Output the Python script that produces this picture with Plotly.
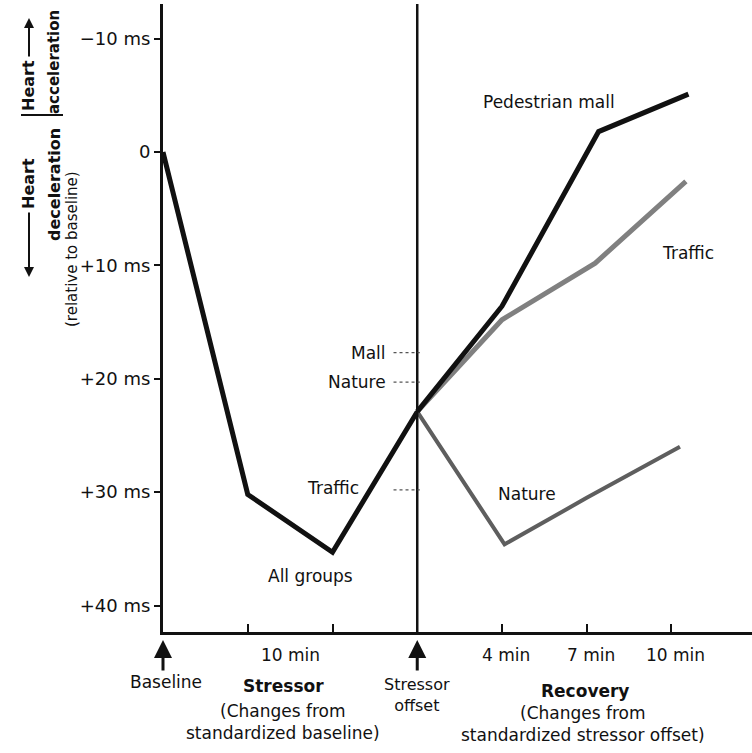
import plotly.graph_objects as go

# ---- data (x: 0 = baseline, 3 = stressor offset; y: ms change, + = deceleration)
stress_x = [0, 1, 2, 3]
stress_y = [0, 30.2, 35.3, 22.9]

mall_x = [3, 4, 5.14, 6.2]
mall_y = [22.9, 13.6, -1.8, -5.1]

traffic_x = [3, 4, 5.1, 6.17]
traffic_y = [22.9, 14.8, 9.8, 2.6]

nature_x = [3, 4.03, 5.0, 6.1]
nature_y = [22.9, 34.6, 30.5, 26.0]

offset_labels = ["Mall", "Nature", "Traffic"]
offset_values = [17.7, 20.3, 29.8]

ytick_vals = [-10, 0, 10, 20, 30, 40]
ytick_text = ["\u221210 ms", "0", "+10 ms", "+20 ms", "+30 ms", "+40 ms"]

xtick_vals = [1, 2, 4, 5, 6]
xlabel_pos = [1.5, 4.05, 5.05, 6.05]
xlabel_text = ["10 min", "4 min", "7 min", "10 min"]

FONT = "DejaVu Sans"
BLACK = "#111111"
FS = 17

fig = go.Figure()

fig.add_trace(go.Scatter(x=stress_x, y=stress_y, mode="lines",
                         line=dict(color=BLACK, width=5), hoverinfo="skip"))
fig.add_trace(go.Scatter(x=nature_x, y=nature_y, mode="lines",
                         line=dict(color="#5e5e5e", width=4), hoverinfo="skip"))
fig.add_trace(go.Scatter(x=traffic_x, y=traffic_y, mode="lines",
                         line=dict(color="#808080", width=5), hoverinfo="skip"))
fig.add_trace(go.Scatter(x=mall_x, y=mall_y, mode="lines",
                         line=dict(color=BLACK, width=5), hoverinfo="skip"))

# stressor offset vertical line
fig.add_shape(type="line", xref="x", yref="paper", x0=3, x1=3, y0=0, y1=1,
              line=dict(color=BLACK, width=2.5))

# offset leaders
for lab, v in zip(offset_labels, offset_values):
    fig.add_shape(type="line", xref="x", yref="y", x0=2.72, x1=3.03, y0=v, y1=v,
                  line=dict(color="#555", width=1.2, dash="dot"))
    if lab != "Traffic":
        fig.add_annotation(x=2.66, y=v, xref="x", yref="y", text=lab,
                           showarrow=False, xanchor="right", yanchor="middle",
                           font=dict(family=FONT, size=FS, color=BLACK))
fig.add_annotation(x=2.0, y=29.6, xref="x", yref="y", text="Traffic",
                   showarrow=False, xanchor="center", yanchor="middle",
                   font=dict(family=FONT, size=FS, color=BLACK))

# curve labels
fig.add_annotation(x=4.55, y=-4.4, text="Pedestrian mall", showarrow=False,
                   font=dict(family=FONT, size=FS, color=BLACK))
fig.add_annotation(x=5.87, y=8.9, text="Traffic", showarrow=False, xanchor="left",
                   font=dict(family=FONT, size=FS, color=BLACK))
fig.add_annotation(x=4.3, y=30.2, text="Nature", showarrow=False,
                   font=dict(family=FONT, size=FS, color=BLACK))
fig.add_annotation(x=1.74, y=37.4, text="All groups", showarrow=False,
                   font=dict(family=FONT, size=FS, color=BLACK))

# x labels
for xp, t in zip(xlabel_pos, xlabel_text):
    fig.add_annotation(x=xp, y=0, xref="x", yref="paper", yshift=-23, text=t,
                       showarrow=False, yanchor="middle",
                       font=dict(family=FONT, size=FS, color=BLACK))


def py(pix):
    return 1 - (pix - 4) / 628.0


def px(pix):
    return (pix - 163) / 589.0


bottom = [
    (166, 682, "Baseline", FS),
    (283, 686, "<b>Stressor</b>", FS),
    (283, 722, "(Changes from<br>standardized baseline)", FS),
    (417, 695, "Stressor<br>offset", 16),
    (585, 691, "<b>Recovery</b>", FS),
    (583, 724, "(Changes from<br>standardized stressor offset)", FS),
]
for xx, yy, t, s in bottom:
    fig.add_annotation(x=px(xx), y=py(yy), xref="paper", yref="paper", text=t,
                       showarrow=False, xanchor="center", yanchor="middle",
                       font=dict(family=FONT, size=s, color=BLACK))

# arrows under axis
for xx in [0, 3]:
    fig.add_annotation(x=xx, y=py(640), xref="x", yref="paper", text="",
                       showarrow=True, arrowhead=2, arrowsize=1.2, arrowwidth=3,
                       arrowcolor=BLACK, ax=0, ay=32)

# y-axis title (rotated)
title_items = [
    (29, 184, "<b>Heart</b>", 16),
    (29, 86, "<b>Heart</b>", 16),
    (54, 185, "<b>deceleration</b>", 16),
    (54, 62, "<b>acceleration</b>", 15),
    (72, 249, "(relative to baseline)", 15),
]
for xx, yy, t, s in title_items:
    fig.add_annotation(x=px(xx), y=py(yy), xref="paper", yref="paper", text=t,
                       showarrow=False, textangle=-90, xanchor="center", yanchor="middle",
                       font=dict(family=FONT, size=s, color=BLACK))
# arrows for the title
fig.add_annotation(x=px(29), y=py(277), xref="paper", yref="paper", text="",
                   showarrow=True, arrowhead=2, arrowsize=1, arrowwidth=2,
                   arrowcolor=BLACK, ax=0, ay=-66)
fig.add_annotation(x=px(29), y=py(18), xref="paper", yref="paper", text="",
                   showarrow=True, arrowhead=2, arrowsize=1, arrowwidth=2,
                   arrowcolor=BLACK, ax=0, ay=40)
fig.add_shape(type="line", xref="paper", yref="paper", x0=px(21), x1=px(63),
              y0=py(115), y1=py(115), line=dict(color=BLACK, width=2))

fig.update_xaxes(range=[0, 6.95], showgrid=False, zeroline=False, showline=True,
                 linecolor=BLACK, linewidth=3, tickvals=xtick_vals, ticktext=[""] * 5,
                 ticks="inside", ticklen=8, tickwidth=1.5, tickcolor=BLACK)
fig.update_yaxes(range=[42.33, -13.05], showgrid=False, zeroline=False, showline=True,
                 linecolor=BLACK, linewidth=3, tickvals=ytick_vals, ticktext=ytick_text,
                 ticks="outside", ticklen=6, tickwidth=1.5, tickcolor=BLACK,
                 tickfont=dict(family=FONT, size=18, color=BLACK))

fig.update_layout(width=752, height=753, margin=dict(l=163, r=0, t=4, b=121),
                  plot_bgcolor="white", paper_bgcolor="white", showlegend=False)

fig.write_html("out.html", config={"displayModeBar": False},
               post_script="document.body.style.margin='0';document.body.style.overflow='hidden';")
